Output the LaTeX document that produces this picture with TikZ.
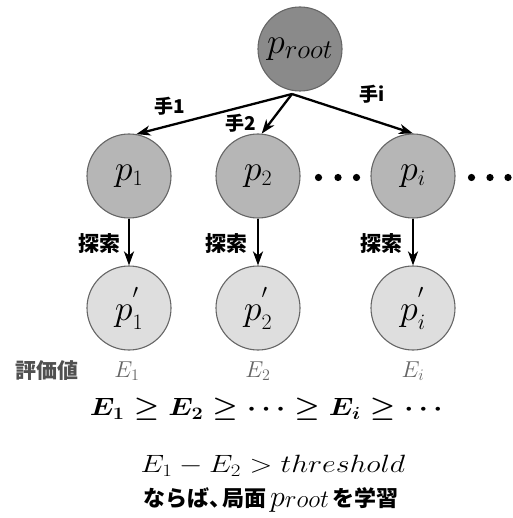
\RequirePackage{fix-cm}
\documentclass[tikz,border=0pt]{standalone}
\usepackage{amsmath}
\usepackage{graphicx}
\usepackage{fontspec}
\newfontfamily\jp{Noto Sans CJK JP}
\usetikzlibrary{arrows.meta}
\definecolor{rootfill}{HTML}{8A8A8A}
\definecolor{midfill}{HTML}{B6B6B6}
\definecolor{leaffill}{HTML}{DEDEDE}
\definecolor{rim}{HTML}{666666}
\definecolor{elabel}{HTML}{666666}
\definecolor{evlabel}{HTML}{505050}
\tikzset{
  posnode/.style={circle, draw=rim, line width=1.1pt, minimum size=84pt, inner sep=0pt, font=\fontsize{36}{36}\selectfont},
  rootpos/.style={posnode, fill=rootfill},
  midpos/.style={posnode, fill=midfill},
  leafpos/.style={posnode, fill=leaffill},
  mv/.style={-{Stealth[length=14pt,width=10pt,inset=4pt]}, line width=2.3pt, black},
  lbl/.style={font=\jp\bfseries\fontsize{19}{19}\selectfont, inner sep=0pt},
  slbl/.style={font=\jp\bfseries\fontsize{21}{21}\selectfont, inner sep=0pt},
  elbl/.style={font=\fontsize{23}{23}\selectfont, text=elabel, inner sep=0pt},
  dotmark/.style={fill=black, draw=none}
}
\newcommand{\sub}[2]{\mbox{\fontsize{#1}{#1}\selectfont$#2$}}
\newcommand{\hiprime}{\raisebox{9pt}{\sub{20}{\prime}}}
\begin{document}
\begin{tikzpicture}[x=1pt,y=-1pt]
\useasboundingbox (0,0) rectangle (512,518);
\node[rootpos] (root) at (300,49) {$p_{\sub{27}{root}}$};
\node[midpos] (p1) at (129,176) {$p_{\sub{22}{1}}$};
\node[midpos] (p2) at (258,176) {$p_{\sub{22}{2}}$};
\node[midpos] (pi) at (413,176) {$p_{\sub{22}{i}}$};
\node[leafpos] (q1) at (129,308) {$p^{\hiprime}_{\sub{22}{1}}$};
\node[leafpos] (q2) at (258,308) {$p^{\hiprime}_{\sub{22}{2}}$};
\node[leafpos] (qi) at (413,308) {$p^{\hiprime}_{\sub{22}{i}}$};
\coordinate (fork) at (292,94);
\draw[mv] (fork) -- (p1.80);
\draw[mv] (fork) -- (p2.85);
\draw[mv] (fork) -- (pi.north);
\draw[mv] (p1.south) -- (q1.north);
\draw[mv] (p2.south) -- (q2.north);
\draw[mv] (pi.south) -- (qi.north);
\node[lbl] (m1) at (170,106) {手1};
\node[lbl] (m2) at (241,123) {手2};
\node[lbl] (mi) at (372,94) {手i};
\node[slbl] (s1) at (99,244) {探索};
\node[slbl] (s2) at (226,244) {探索};
\node[slbl] (si) at (381,244) {探索};
\node[slbl, text=evlabel] (ev) at (47,371) {評価値};
\node[elbl] (e1) at (127,371) {$E_1$};
\node[elbl] (e2) at (258,371) {$E_2$};
\node[elbl] (ei) at (413,371) {$E_i$};
\foreach \x in {318.5,338,356.5,471.5,490,508}
  \fill[dotmark] (\x,177.5) circle (3.6pt);
\node[inner sep=0pt, font=\fontsize{25}{25}\selectfont\boldmath] (order) at (269,409) {\scalebox{1.14}[1]{$E_1 \geq E_2 \geq \cdots \geq E_i \geq \cdots$}};
\node[inner sep=0pt, font=\fontsize{25}{25}\selectfont] (cond) at (273,466) {\scalebox{1.2}[1]{$E_1 - E_2 > threshold$}};
\node[inner sep=0pt, font=\jp\bfseries\fontsize{22}{22}\selectfont] (learn) at (271,500) {ならば、\kern-0.4em 局面\,\sub{30}{p}\raisebox{-1pt}{\sub{25}{root}}\,を学習};
\end{tikzpicture}
\end{document}
